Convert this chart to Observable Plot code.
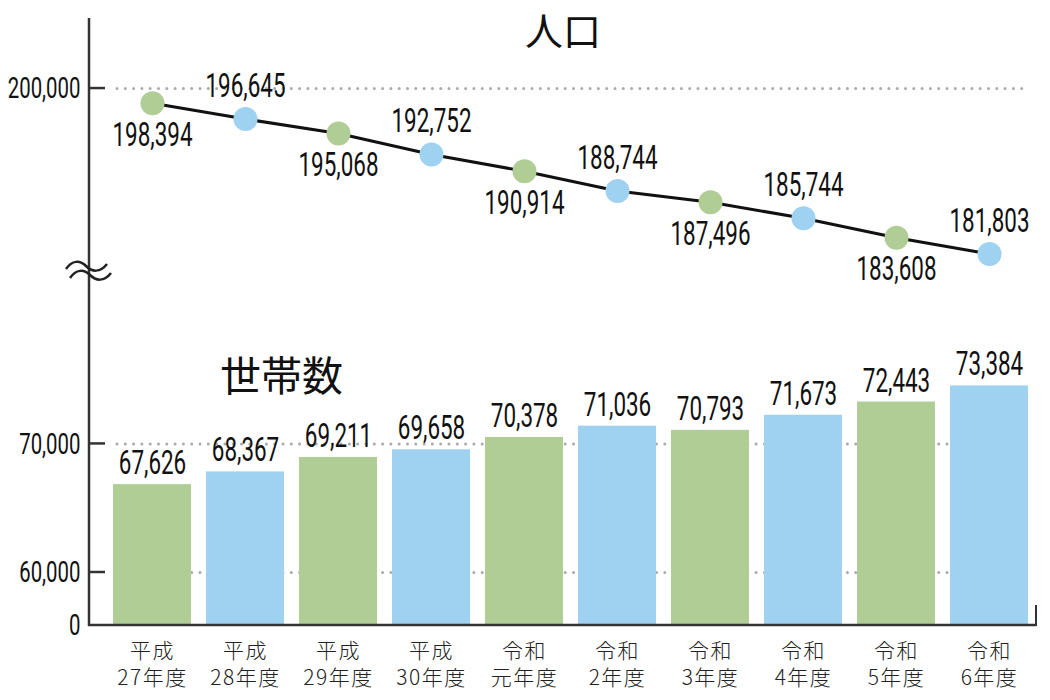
<!DOCTYPE html>
<html><head><meta charset="utf-8">
<script src="https://cdn.jsdelivr.net/npm/d3@7"></script>
<script src="https://cdn.jsdelivr.net/npm/@observablehq/plot@0.6"></script>
<style>body{margin:0;background:#fff;}</style>
</head><body><div id="chart"></div>
<script>
const categories = ["平成27年度","平成28年度","平成29年度","平成30年度","令和元年度","令和2年度","令和3年度","令和4年度","令和5年度","令和6年度"];
const xTickLabels = ["平成\n27年度","平成\n28年度","平成\n29年度","平成\n30年度","令和\n元年度","令和\n2年度","令和\n3年度","令和\n4年度","令和\n5年度","令和\n6年度"];
const population = [198394,196645,195068,192752,190914,188744,187496,185744,183608,181803];
const households = [67626,68367,69211,69658,70378,71036,70793,71673,72443,73384];
const yTicks = [0,60000,70000,200000];
const gridTicks = [60000,70000,200000];
const breakValue = 180000;
const titles = ["人口","世帯数"];

const rows = categories.map((c,i)=>({cat:c, pop:population[i], hh:households[i], i}));
const fmt = d3.format(",");
const green = "#b0cd96", blue = "#9fd1f0";
const col = d => d.i % 2 === 0 ? green : blue;
const numFont = "Roboto, sans-serif";
const jpFont = "'Noto Sans CJK JP',sans-serif";
const condense = 0.68;

const decor = (index, scales, values, dims) => {
  const g = d3.create("svg:g");
  const x0 = dims.marginLeft, yTop = dims.marginTop, yBot = dims.height - dims.marginBottom, xR = dims.width - dims.marginRight;
  const ln = (x1,y1,x2,y2,w) => g.append("line").attr("x1",x1).attr("y1",y1).attr("x2",x2).attr("y2",y2).attr("stroke","#333").attr("stroke-width",w);
  ln(x0, yTop, x0, yBot + 1, 2.5);
  ln(x0 - 1, yBot, xR, yBot, 2.5);
  ln(xR, yBot - 20, xR, yBot + 1, 2);
  for (const t of yTicks.filter(d => d > 0)) { const y = scales.y(t); ln(x0, y, x0 + 16, y, 2.5); }
  const yb = scales.y(breakValue);
  const gb = g.append("g").attr("transform", `translate(${x0},${yb})`).attr("fill","none").attr("stroke","#222").attr("stroke-width",2.5);
  gb.append("path").attr("d","M-23,-1 C-17,-10 -9,-10 -3,-4 S11,3 18,-6");
  gb.append("path").attr("d","M-19,8 C-13,-1 -5,-1 1,5 S15,12 22,3");
  return g.node();
};

const numText = {lineAnchor: "middle", fontSize: 33, fontFamily: numFont, fill: "#111"};

const plot = Plot.plot({
  width: 1050, height: 700,
  marginLeft: 89, marginRight: 14, marginTop: 18, marginBottom: 75,
  style: {background: "#fff", color: "#222"},
  x: {domain: categories, range: [98, 1043], padding: 0.16, axis: null},
  y: {type: "linear", domain: [0, 60000, 66000, 80000, 180000, 207700], range: [625, 572, 512, 272, 270, 18], axis: null},
  color: {type: "identity"},
  marks: [
    Plot.ruleY(gridTicks, {y: d => d, stroke: "#aaa", strokeWidth: 3, strokeDasharray: "0,8.3", strokeLinecap: "round", insetLeft: 28, insetRight: 6}),
    Plot.barY(rows, {x: "cat", y: "hh", fill: col}),
    Plot.line(rows, {x: "cat", y: "pop", stroke: "#111", strokeWidth: 3}),
    Plot.dot(rows, {x: "cat", y: "pop", r: 12, fill: col}),
    Plot.text(rows.filter(d => d.i % 2 === 0), {x: "cat", y: "pop", text: d => fmt(d.pop), dy: 32, ...numText}),
    Plot.text(rows.filter(d => d.i % 2 === 1), {x: "cat", y: "pop", text: d => fmt(d.pop), dy: -33, ...numText}),
    Plot.text(rows, {x: "cat", y: "hh", text: d => fmt(d.hh), dy: -21, ...numText}),
    Plot.axisY(yTicks, {tickSize: 0, tickPadding: 9, tickFormat: fmt, fontSize: 30, fontFamily: numFont, fill: "#111", label: null}),
    Plot.axisX({tickSize: 0, tickPadding: 13, tickFormat: d => xTickLabels[categories.indexOf(d)], fontSize: 21, fontWeight: 300, fontFamily: jpFont, lineHeight: 1.3, fill: "#222", label: null}),
    Plot.text([titles[0]], {frameAnchor: "top", dx: 0, dy: 14, lineAnchor: "middle", fontSize: 38, fontFamily: jpFont, fill: "#111"}),
    Plot.text([titles[1]], {x: () => categories[1], y: () => 73850, dx: 36, lineAnchor: "middle", fontSize: 41, fontFamily: jpFont, fill: "#111"}),
    decor
  ]
});
// condense numeric labels horizontally (the reference uses a condensed typeface)
d3.select(plot).selectAll("text").each(function() {
  if (!/^[\d,]+$/.test(this.textContent.trim())) return;
  const xa = this.getAttribute("x");
  if (xa != null && isFinite(+xa) && +xa !== 0) this.setAttribute("x", +xa / condense);
  const t = this.getAttribute("transform") || "";
  this.setAttribute("transform", `${t} scale(${condense},1)`);
});
d3.select(plot).selectAll('g[aria-label="x-axis tick label"] text').style("letter-spacing", "1.5px");
document.getElementById("chart").appendChild(plot);
</script>
</body></html>
